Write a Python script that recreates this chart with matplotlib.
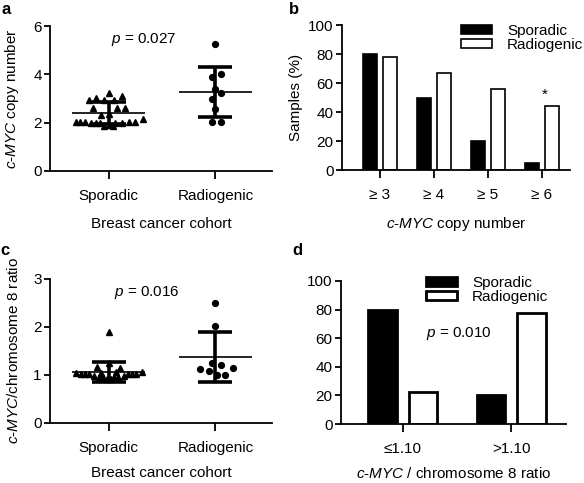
import matplotlib
matplotlib.use("Agg")
import matplotlib.pyplot as plt
from matplotlib.patches import Patch
import numpy as np

plt.rcParams['font.family'] = ['Liberation Sans', 'DejaVu Sans']
plt.rcParams['font.size'] = 11
plt.rcParams['mathtext.fontset'] = 'custom'
plt.rcParams['mathtext.rm'] = 'Liberation Sans'
plt.rcParams['mathtext.it'] = 'Liberation Sans:italic'

cohorts = ["Sporadic", "Radiogenic"]

# panel a: c-MYC copy number per sample
a_spor = [3.24, 3.01, 3.10, 2.92, 2.92, 2.92, 2.60, 2.60, 2.60, 2.32, 2.35,
          2.03, 2.03, 2.03, 2.00, 2.00, 2.00, 2.00, 2.00, 2.03, 2.03, 2.14,
          1.88, 1.90, 1.88]
a_spor_jit = [0.0, -0.12, 0.12, -0.18, -0.04, 0.05, -0.15, 0.08, 0.15, -0.07, 0.0,
              -0.31, -0.27, -0.22, -0.17, -0.12, -0.08, 0.06, 0.12, 0.19, 0.25, 0.32,
              -0.04, 0.0, 0.04]
a_rad = [5.25, 3.90, 4.00, 3.38, 3.24, 2.97, 2.55, 2.02, 2.02]
a_rad_jit = [0.0, -0.03, 0.05, 0.0, 0.05, -0.03, 0.0, -0.03, 0.05]
a_mean = [2.40, 3.27]
a_sd = [0.46, 1.03]

# panel b: samples (%) above copy number threshold
b_cats = ["\u2265 3", "\u2265 4", "\u2265 5", "\u2265 6"]
b_spor = [80, 50, 20, 5]
b_rad = [77.8, 66.7, 55.6, 44.4]

# panel c: c-MYC / chromosome 8 ratio
c_spor = [1.90, 1.25, 1.17, 1.14, 1.04, 1.03, 1.02, 1.03, 1.02, 1.03, 1.03, 1.07,
          0.97, 0.95, 0.95, 0.95, 0.96, 0.97, 0.92, 0.92, 1.05, 1.06]
c_spor_jit = [0.0, 0.0, -0.11, 0.11, -0.31, -0.26, -0.22, -0.18, 0.18, 0.22, 0.26, 0.31,
              -0.14, -0.09, -0.05, 0.05, 0.09, 0.14, -0.02, 0.02, -0.07, 0.07]
c_rad = [2.50, 2.02, 1.13, 1.09, 1.24, 1.20, 1.00, 1.00, 1.14]
c_rad_jit = [0.0, 0.0, -0.14, -0.06, -0.03, 0.05, 0.01, 0.09, 0.165]
c_mean = [1.06, 1.37]
c_sd = [0.215, 0.52]

# panel d: samples (%) by ratio group
d_cats = ["\u22641.10", ">1.10"]
d_spor = [80, 20]
d_rad = [22.2, 77.8]

W, H = 584, 483
fig = plt.figure(figsize=(W / 100, H / 100), dpi=100)


def px_axes(left, top, right, bottom):
    return fig.add_axes([left / W, 1 - bottom / H, (right - left) / W, (bottom - top) / H])


def style(ax):
    for s in ["top", "right"]:
        ax.spines[s].set_visible(False)
    for s in ["left", "bottom"]:
        ax.spines[s].set_linewidth(1.3)
    ax.tick_params(axis="y", length=4, width=1.3, pad=2)
    ax.tick_params(axis="x", length=6, width=1.3, pad=7)


def scatter_panel(ax, spor, spor_jit, rad, rad_jit, mean, sd):
    ax.plot(np.array(spor_jit), spor, "^", color="black", ms=4.5, clip_on=False, zorder=3)
    ax.plot(1 + np.array(rad_jit), rad, "o", color="black", ms=4.2, clip_on=False, zorder=3)
    for i in range(2):
        ax.hlines(mean[i], i - 0.34, i + 0.34, color="black", lw=1.2, zorder=4)
        ax.errorbar(i, mean[i], yerr=sd[i], color="black", elinewidth=2.6,
                    capsize=12, capthick=2.6, zorder=4)
    ax.set_xticks([0, 1])
    ax.set_xticklabels(cohorts)


# a
ax = px_axes(50, 26, 272, 171)
style(ax)
scatter_panel(ax, a_spor, a_spor_jit, a_rad, a_rad_jit, a_mean, a_sd)
ax.set_xlim(-0.55, 1.53)
ax.set_ylim(0, 6)
ax.set_yticks([0, 2, 4, 6])
ax.set_xlabel("Breast cancer cohort", labelpad=10)
ax.set_ylabel(r"$\it{c}$-$\it{MYC}$ copy number", labelpad=9)
ax.text(0.33, 5.45, r"$\it{p}$ = 0.027", ha="center", va="center")

# c
ax = px_axes(50, 279, 272, 423)
style(ax)
scatter_panel(ax, c_spor, c_spor_jit, c_rad, c_rad_jit, c_mean, c_sd)
ax.set_xlim(-0.55, 1.53)
ax.set_ylim(0, 3)
ax.set_yticks([0, 1, 2, 3])
ax.set_xlabel("Breast cancer cohort", labelpad=8)
ax.set_ylabel(r"$\it{c}$-$\it{MYC}$/chromosome 8 ratio", labelpad=9)
ax.text(0.36, 2.71, r"$\it{p}$ = 0.016", ha="center", va="center")

# b
ax = px_axes(342, 25, 570, 170)
style(ax)
x = np.arange(len(b_cats))
ax.bar(x - 0.19, b_spor, 0.26, color="black", edgecolor="black", lw=1.2)
ax.bar(x + 0.19, b_rad, 0.26, color="white", edgecolor="black", lw=1.2)
ax.set_xlim(-0.70, 3.52)
ax.set_ylim(0, 100)
ax.set_yticks(range(0, 101, 20))
ax.set_xticks(x)
ax.set_xticklabels(b_cats)
ax.set_ylabel("Samples (%)", labelpad=4)
ax.set_xlabel(r"$\it{c}$-$\it{MYC}$ copy number", labelpad=9)
ax.text(3.06, 52, "*", ha="center", va="center")
ax.legend(handles=[Patch(facecolor="black", edgecolor="black", lw=1.2),
                   Patch(facecolor="white", edgecolor="black", lw=1.2)],
          labels=cohorts, loc="upper left", bbox_to_anchor=(0.49, 1.06),
          frameon=False, borderpad=0, handlelength=2.0, handleheight=0.45,
          handletextpad=1.0, labelspacing=0.0)

# d
ax = px_axes(341, 281, 566, 424)
style(ax)
x = np.arange(len(d_cats))
ax.bar(x - 0.186, d_spor, 0.265, color="black", edgecolor="black", lw=2)
ax.bar(x + 0.186, d_rad, 0.265, color="white", edgecolor="black", lw=2)
ax.set_xlim(-0.57, 1.505)
ax.set_ylim(0, 100)
ax.set_yticks(range(0, 101, 20))
ax.set_xticks(x)
ax.set_xticklabels(d_cats)
ax.set_xlabel(r"$\it{c}$-$\it{MYC}$ / chromosome 8 ratio", labelpad=7)
ax.text(0.52, 63, r"$\it{p}$ = 0.010", ha="center", va="center")
ax.legend(handles=[Patch(facecolor="black", edgecolor="black", lw=2),
                   Patch(facecolor="white", edgecolor="black", lw=2)],
          labels=cohorts, loc="upper left", bbox_to_anchor=(0.345, 1.09),
          frameon=False, borderpad=0, handlelength=2.0, handleheight=0.55,
          handletextpad=1.0, labelspacing=0.0)

# panel letters
for lab, px, py in [("a", 2, 2), ("b", 289, 2), ("c", 0, 243), ("d", 292, 243)]:
    fig.text(px / W, 1 - py / H, lab, fontweight="bold", fontsize=12, va="top", ha="left")

fig.savefig("out.png", dpi=100)
